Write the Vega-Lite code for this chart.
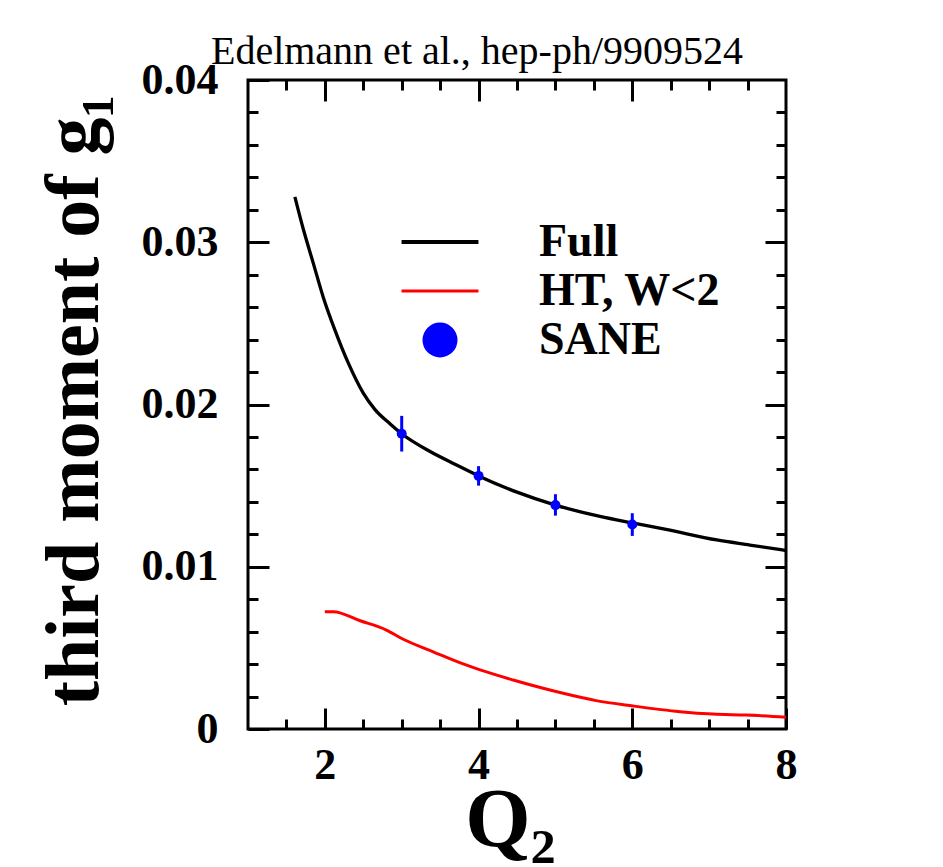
{
  "$schema": "https://vega.github.io/schema/vega-lite/v6.json",
  "width": 538,
  "height": 649,
  "autosize": {"type": "none"},
  "padding": {"left": 248, "top": 80, "right": 157, "bottom": 138},
  "background": "white",
  "title": {"text": "Edelmann et al., hep-ph/9909524", "font": "Liberation Serif", "fontSize": 40, "fontWeight": "normal", "color": "black", "anchor": "middle", "baseline": "alphabetic", "offset": 18, "dx": -40, "dy": 64},
  "config": {
    "view": {"stroke": "black", "strokeWidth": 3},
    "axis": {"grid": false, "domain": false, "tickColor": "black", "tickWidth": 3, "labelFont": "Liberation Serif", "labelFontWeight": "bold", "labelFontSize": 44, "labelColor": "black", "labelFlush": false, "labelOverlap": false, "titleFont": "Liberation Serif", "titleFontWeight": "bold", "titleColor": "black"}
  },
  "datasets": {
    "full": [
      {"series": "Full", "q": 1.61, "m": 0.0328},
      {"series": "Full", "q": 1.72, "m": 0.0308},
      {"series": "Full", "q": 1.85, "m": 0.0287},
      {"series": "Full", "q": 1.98, "m": 0.0266},
      {"series": "Full", "q": 2.13, "m": 0.0246},
      {"series": "Full", "q": 2.31, "m": 0.0225},
      {"series": "Full", "q": 2.5, "m": 0.0207},
      {"series": "Full", "q": 2.65, "m": 0.0197},
      {"series": "Full", "q": 2.85, "m": 0.0188},
      {"series": "Full", "q": 3.0, "m": 0.0182},
      {"series": "Full", "q": 3.37, "m": 0.0171},
      {"series": "Full", "q": 3.7, "m": 0.0163},
      {"series": "Full", "q": 4.0, "m": 0.0156},
      {"series": "Full", "q": 4.5, "m": 0.0146},
      {"series": "Full", "q": 5.0, "m": 0.0138},
      {"series": "Full", "q": 5.58, "m": 0.0131},
      {"series": "Full", "q": 6.0, "m": 0.0127},
      {"series": "Full", "q": 6.44, "m": 0.0123},
      {"series": "Full", "q": 7.1, "m": 0.01165},
      {"series": "Full", "q": 7.53, "m": 0.01134},
      {"series": "Full", "q": 8.0, "m": 0.0110}
    ],
    "ht": [
      {"series": "HT, W<2", "q": 2.0, "m": 0.00723},
      {"series": "HT, W<2", "q": 2.11, "m": 0.00723},
      {"series": "HT, W<2", "q": 2.46, "m": 0.00667},
      {"series": "HT, W<2", "q": 2.8, "m": 0.0061},
      {"series": "HT, W<2", "q": 3.02, "m": 0.00553},
      {"series": "HT, W<2", "q": 3.41, "m": 0.00476},
      {"series": "HT, W<2", "q": 3.8, "m": 0.00401},
      {"series": "HT, W<2", "q": 4.02, "m": 0.00364},
      {"series": "HT, W<2", "q": 4.45, "m": 0.00302},
      {"series": "HT, W<2", "q": 4.84, "m": 0.00251},
      {"series": "HT, W<2", "q": 5.1, "m": 0.0022},
      {"series": "HT, W<2", "q": 5.53, "m": 0.00175},
      {"series": "HT, W<2", "q": 6.01, "m": 0.00142},
      {"series": "HT, W<2", "q": 6.62, "m": 0.00107},
      {"series": "HT, W<2", "q": 7.05, "m": 0.00092},
      {"series": "HT, W<2", "q": 7.49, "m": 0.00086},
      {"series": "HT, W<2", "q": 8.0, "m": 0.00072}
    ],
    "sane": [
      {"series": "SANE", "q": 3, "m": 0.0182, "lo": 0.0171, "hi": 0.0193},
      {"series": "SANE", "q": 4, "m": 0.0156, "lo": 0.0150, "hi": 0.0162},
      {"series": "SANE", "q": 5, "m": 0.0138, "lo": 0.01315, "hi": 0.01447},
      {"series": "SANE", "q": 6, "m": 0.0126, "lo": 0.0119, "hi": 0.0133}
    ]
  },
  "resolve": {"axis": {"x": "independent", "y": "independent"}},
  "layer": [
    {
      "data": {"name": "full"},
      "mark": {"type": "line", "strokeWidth": 3.3, "interpolate": "monotone"},
      "encoding": {
        "x": {"field": "q", "type": "quantitative", "scale": {"domain": [1, 8], "nice": false, "zero": false},
          "axis": {"orient": "bottom", "values": [2, 4, 6, 8], "tickSize": -21, "labelPadding": 70, "labelBaseline": "alphabetic", "format": "d",
            "title": "Q₂", "titleFontSize": 84, "titleX": 262, "titleY": 117, "titleBaseline": "alphabetic", "titleAlign": "center"}},
        "y": {"field": "m", "type": "quantitative", "scale": {"domain": [0, 0.04], "nice": false, "zero": true},
          "axis": {"orient": "left", "values": [0, 0.01, 0.02, 0.03, 0.04], "tickSize": -21, "labelPadding": 51, "labelBaseline": "middle", "format": ".2~f",
            "title": "third moment of g₁", "titleFontSize": 76, "titleAngle": 270, "titleX": -151, "titleY": 320, "titleBaseline": "alphabetic", "titleAlign": "center"}},
        "color": {"field": "series", "type": "nominal",
          "scale": {"domain": ["Full", "HT, W<2", "SANE"], "range": ["black", "red", "blue"]},
          "legend": {"orient": "none", "legendX": 169, "legendY": 139, "padding": 0, "title": null,
            "symbolType": "M-4,0H4", "symbolSize": 370, "symbolStrokeWidth": 3,
            "labelOffset": 76, "labelFontSize": 46, "labelFont": "Liberation Serif", "labelFontWeight": "bold", "labelColor": "black", "labelLimit": 500, "labelBaseline": "middle",
            "rowPadding": 3,
            "encode": {"symbols": {"update": {
              "shape": {"signal": "datum.value === 'SANE' ? 'circle' : 'M-4,0H4'"},
              "size": {"signal": "datum.value === 'SANE' ? 1024 : 370"},
              "fill": {"signal": "datum.value === 'SANE' ? 'blue' : 'transparent'"},
              "stroke": {"signal": "datum.value === 'SANE' ? 'transparent' : (datum.value === 'Full' ? 'black' : 'red')"},
              "strokeWidth": {"signal": "datum.value === 'Full' ? 4 : 3"},
              "opacity": {"value": 1}
            }}}}}
      }
    },
    {
      "data": {"name": "ht"},
      "mark": {"type": "line", "strokeWidth": 3, "interpolate": "monotone"},
      "encoding": {
        "x": {"field": "q", "type": "quantitative",
          "axis": {"orient": "bottom", "values": [1.5, 2.5, 3, 3.5, 4.5, 5, 5.5, 6.5, 7, 7.5], "tickSize": -10, "labels": false, "title": null}},
        "y": {"field": "m", "type": "quantitative",
          "axis": {"orient": "left", "values": [0.002, 0.004, 0.006, 0.008, 0.012, 0.014, 0.016, 0.018, 0.022, 0.024, 0.026, 0.028, 0.032, 0.034, 0.036, 0.038], "tickSize": -10, "labels": false, "title": null}},
        "color": {"field": "series", "type": "nominal"}
      }
    },
    {
      "data": {"name": "sane"},
      "mark": {"type": "rule", "strokeWidth": 3, "color": "blue"},
      "encoding": {
        "x": {"field": "q", "type": "quantitative",
          "axis": {"orient": "top", "values": [2, 4, 6], "tickSize": -21, "labels": false, "title": null}},
        "y": {"field": "lo", "type": "quantitative",
          "axis": {"orient": "right", "values": [0.01, 0.02, 0.03], "tickSize": -21, "labels": false, "title": null}},
        "y2": {"field": "hi"}
      }
    },
    {
      "data": {"name": "sane"},
      "mark": {"type": "point", "filled": true, "size": 100, "opacity": 1},
      "encoding": {
        "x": {"field": "q", "type": "quantitative",
          "axis": {"orient": "top", "values": [1.5, 2.5, 3, 3.5, 4.5, 5, 5.5, 6.5, 7, 7.5], "tickSize": -10, "labels": false, "title": null}},
        "y": {"field": "m", "type": "quantitative",
          "axis": {"orient": "right", "values": [0.002, 0.004, 0.006, 0.008, 0.012, 0.014, 0.016, 0.018, 0.022, 0.024, 0.026, 0.028, 0.032, 0.034, 0.036, 0.038], "tickSize": -10, "labels": false, "title": null}},
        "color": {"field": "series", "type": "nominal"}
      }
    }
  ]
}
